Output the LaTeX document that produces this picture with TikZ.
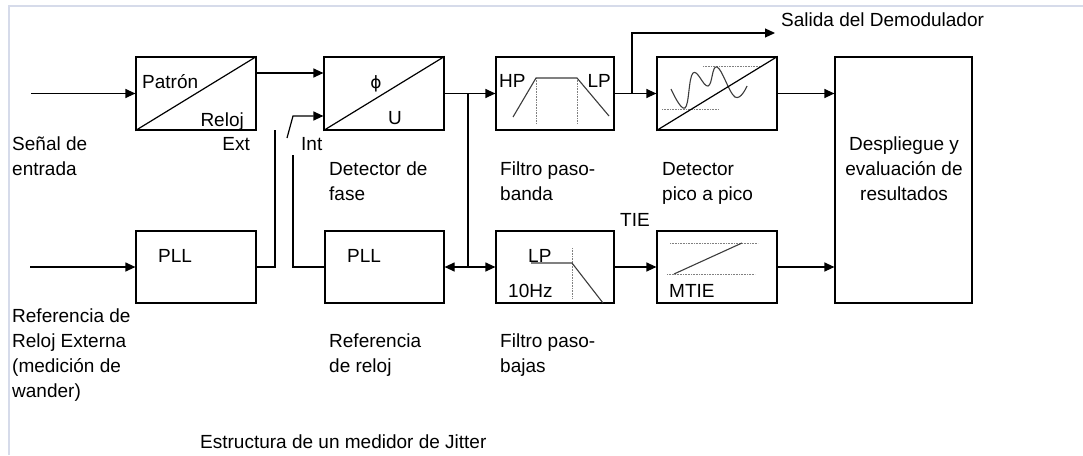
\documentclass[tikz,border=0pt]{standalone}
\usepackage{fontspec}
\setmainfont{Liberation Sans}
\newfontfamily\symfont{DejaVu Sans}
\usetikzlibrary{arrows.meta}

\definecolor{framecol}{RGB}{214,219,234}
\definecolor{inkcol}{RGB}{60,60,60}

\tikzset{
  blk/.style={draw, line width=1.2pt, inner sep=0pt, minimum width=120pt, minimum height=73pt},
  lbl/.style={anchor=base west, inner sep=0pt, align=left, font=\fontsize{19}{25}\selectfont},
  sig/.style={line width=1.2pt, -{Triangle[length=10pt,width=9pt]}},
  wire/.style={line width=1.2pt},
  curve/.style={line width=1.1pt, inkcol},
  dots/.style={densely dotted, line width=0.6pt, gray},
}

\begin{document}
\begin{tikzpicture}[x=1pt, y=-1pt]
    \useasboundingbox (0,0) rectangle (1083,455);
    % Frame
    \draw[framecol, line width=2pt] (8.5,455) -- (8.5,6) -- (1083,6);

    % Boxes
    \node[blk] (patron) at (196,93.5) {};
    \node[blk] (fase) at (384,93.5) {};
    \node[blk, minimum width=118pt] (pasob) at (555,93.5) {};
    \node[blk] (pico) at (717,93.5) {};
    \node[blk, minimum width=137pt, minimum height=246pt] (despl) at (903.5,180) {};
    \node[blk, minimum height=72pt] (pllext) at (196,267) {};
    \node[blk, minimum width=119pt, minimum height=72pt] (pllint) at (384.5,267) {};
    \node[blk, minimum width=118pt, minimum height=72pt] (pasobj) at (555,267) {};
    \node[blk, minimum height=72pt] (mtie) at (717,267) {};

    % Box contents
    \draw[wire] (patron.south west) -- (patron.north east);
    \node[lbl] (patrontxt) at (142,88) {Patrón};
    \node[lbl, anchor=base east] (relojtxt) at (244,126) {Reloj};
    \draw[wire] (fase.south west) -- (fase.north east);
    \node[inner sep=0pt, font=\symfont\fontsize{17}{20}\selectfont] (phitxt) at (376,84) {ϕ};
    \node[lbl, anchor=base] (utxt) at (395,124) {U};
    \node[lbl] (hptxt) at (499,87) {HP};
    \node[lbl, anchor=base east] (lptxt) at (611,87) {LP};
    \draw[dots] (536,78) -- (536,124);
    \draw[dots] (577,78) -- (577,124);
    \draw[curve] (513,117) -- (536,78) -- (577,78) -- (609,116);
    \draw[dots] (703,66) -- (760,66);
    \draw[dots] (662,109) -- (719,109);
    \draw[curve] plot[smooth, tension=0.7] coordinates {(671,89) (685,108) (693,73) (708,86) (717,67) (735,97) (747,86)};
    \draw[wire] (pico.south west) -- (pico.north east);
    \node[lbl] (pll1txt) at (158,262) {PLL};
    \node[lbl] (pll2txt) at (347,262) {PLL};
    \node[lbl] (lp2txt) at (528,262) {LP};
    \node[lbl] (hztxt) at (508,297) {10Hz};
    \draw[dots] (572,248) -- (572,298);
    \draw[curve] (531,263) -- (572,263) -- (603,303);
    \draw[dots] (670,243) -- (758,243);
    \draw[dots] (667,274) -- (755,274);
    \draw[curve] (674,274) -- (742,243);
    \node[lbl] (mtietxt) at (669,297) {MTIE};
    \node[lbl, anchor=base, align=center] (despltxt) at (904,200) {Despliegue y\\evaluación de\\resultados};

    % Connectors
    \coordinate (inA) at (31,93.5);
    \coordinate (inB) at (30,267);
    \coordinate (swA) at (287,138);
    \coordinate (swB) at (293,116);
    \coordinate (extT) at (275,130);
    \coordinate (intT) at (293,155);
    \coordinate (j1) at (468,93.5);
    \coordinate (j2) at (632,93.5);
    \coordinate (sal) at (775,33);
    \draw[sig] (inA) -- (patron.west);
    \draw[sig] (patron.east |- 0,73) -- (fase.west |- 0,73);
    \draw[sig] (swA) -- (swB) -- (fase.west |- swB);
    \draw[wire] (pllext.east) -- (extT |- pllext.east) -- (extT);
    \draw[wire] (pllint.west) -- (intT |- pllint.west) -- (intT);
    \draw[sig] (inB) -- (pllext.west);
    \draw[sig] (fase.east) -- (pasob.west);
    \draw[wire] (j1) -- (j1 |- pasobj.west);
    \draw[sig] (j1 |- pasobj.west) -- (pllint.east);
    \draw[sig] (j1 |- pasobj.west) -- (pasobj.west);
    \draw[sig] (pasob.east) -- (pico.west);
    \draw[sig] (j2) -- (j2 |- sal) -- (sal);
    \draw[sig] (pico.east) -- (despl.west |- pico.east);
    \draw[sig] (pasobj.east) -- (mtie.west);
    \draw[sig] (mtie.east) -- (despl.west |- mtie.east);

    % Labels (base = last line)
    \node[lbl] (senal) at (12,175) {Señal de\\entrada};
    \node[lbl, anchor=base east] (exttxt) at (250,150) {Ext};
    \node[lbl] (inttxt) at (301,150) {Int};
    \node[lbl] (saltxt) at (781,27) {Salida del Demodulador};
    \node[lbl] (fasetxt) at (329,200) {Detector de\\fase};
    \node[lbl] (pbtxt) at (500,200) {Filtro paso-\\banda};
    \node[lbl] (picotxt) at (662,200) {Detector\\pico a pico};
    \node[lbl] (reftxt) at (12,397) {Referencia de\\Reloj Externa\\(medición de\\wander)};
    \node[lbl] (relojref) at (329,372) {Referencia\\de reloj};
    \node[lbl] (pbjtxt) at (500,372) {Filtro paso-\\bajas};
    \node[lbl] (tietxt) at (620,226) {TIE};
    \node[lbl] (titulo) at (200,448) {Estructura de un medidor de Jitter};
\end{tikzpicture}
\end{document}
